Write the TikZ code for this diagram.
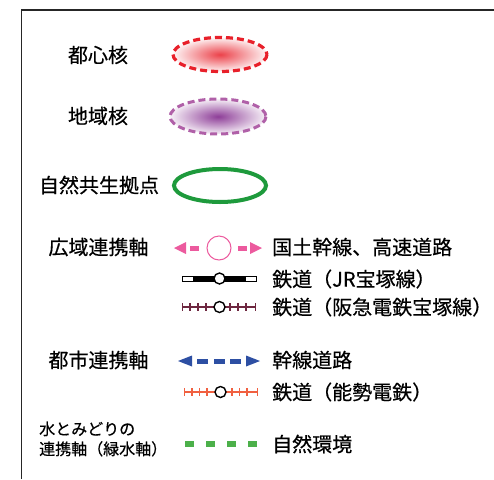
\documentclass[tikz,border=0pt]{standalone}
\usepackage{fontspec}
\setmainfont{Noto Sans CJK JP}[FakeBold=0.5]
\definecolor{cred}{HTML}{E8202A}
\definecolor{cpurp}{HTML}{8E3E98}
\definecolor{cpurpb}{HTML}{B060A8}
\definecolor{cgreen}{HTML}{1E9A3C}
\definecolor{cpink}{HTML}{EC5A9E}
\definecolor{cblue}{HTML}{2D4FA3}
\definecolor{cmaroon}{HTML}{6E2840}
\definecolor{corange}{HTML}{F06040}
\definecolor{cgreen2}{HTML}{4CB04A}
\tikzset{
  lbl/.style={inner sep=0pt, font=\fontsize{20}{24}\selectfont},
  slbl/.style={inner sep=0pt, font=\fontsize{16}{20}\selectfont, align=left},
  rlbl/.style={lbl, anchor=west},
  frameline/.style={draw=black!85, line width=1.5pt},
  stn/.style={circle, draw=black, fill=white, line width=1.4pt, minimum size=11pt, inner sep=0pt},
}
\begin{document}
\begin{tikzpicture}[x=1pt,y=-1pt]
\useasboundingbox (0,0) rectangle (494,479);
% frame
\draw[frameline] (21.5,479) -- (21.5,10) -- (494,10);

% ellipses
\shade[inner color=cred!85, outer color=cred!5] (220,54.5) ellipse [x radius=47, y radius=17];
\draw[cred, line width=3.2pt, dash pattern=on 7pt off 4pt] (220,54.5) ellipse [x radius=47, y radius=17];
\shade[inner color=cpurp, outer color=cpurp!8] (218,116.5) ellipse [x radius=48, y radius=17.5];
\draw[cpurpb, line width=3pt, dash pattern=on 7pt off 4pt] (218,116.5) ellipse [x radius=48, y radius=17.5];
\draw[cgreen, line width=4pt] (220,185.5) ellipse [x radius=46, y radius=16.5];

\node[lbl] (t1) at (98,55) {都心核};
\node[lbl] (t2) at (98,116) {地域核};
\node[lbl] (t3) at (99,185) {自然共生拠点};

% 広域連携軸
\node[lbl] (t4) at (98.5,247) {広域連携軸};
\fill[cpink] (174,248) -- (186,242) -- (186,254) -- cycle;
\fill[cpink] (262,248) -- (250,242) -- (250,254) -- cycle;
\fill[cpink] (190,245.5) rectangle (199,250.5);
\fill[cpink] (238,245.5) rectangle (247,250.5);
\node[circle, draw=cpink, fill=white, line width=1pt, minimum size=24pt, inner sep=0pt] (c1) at (219,248) {};
\node[rlbl] (r1) at (272,247) {国土幹線、高速道路};

% JR
\draw[black, line width=0.9pt, fill=white] (182,276) rectangle (256,281);
\fill[black] (193,276) rectangle (214,281);
\fill[black] (225,276) rectangle (246,281);
\node[stn] (c2) at (219.5,278.5) {};
\node[rlbl] (r2) at (272,279) {鉄道（JR宝塚線）};

% Hankyu
\coordinate (h1) at (182,307);
\coordinate (h2) at (256,307);
\draw[cmaroon, line width=1.2pt] (h1) -- (h2);
\foreach \x in {182.5,190,198,206,230,238,246,255.5}
  \draw[cmaroon, line width=1.2pt] (\x,303) -- (\x,311);
\node[stn] (c3) at (219.5,307) {};
\node[rlbl] (r3) at (272,307) {鉄道（阪急電鉄宝塚線）};

% 都市連携軸
\node[lbl] (t5) at (98.5,360) {都市連携軸};
\fill[cblue] (178,361) -- (192,355.5) -- (192,366.5) -- cycle;
\fill[cblue] (260,361) -- (246,355.5) -- (246,366.5) -- cycle;
\fill[cblue] (197,358.5) rectangle (208,363.5);
\fill[cblue] (213.5,358.5) rectangle (224.5,363.5);
\fill[cblue] (230,358.5) rectangle (241,363.5);
\node[rlbl] (r4) at (272,360) {幹線道路};

% Nose
\coordinate (n1) at (184,392);
\coordinate (n2) at (258,392);
\draw[corange, line width=1.2pt] (n1) -- (n2);
\foreach \x in {184.5,192,199.5,207,232,239.5,247,257.5}
  \draw[corange, line width=1.2pt] (\x,388) -- (\x,396);
\node[stn] (c4) at (220.5,392) {};
\node[rlbl] (r5) at (272,392) {鉄道（能勢電鉄）};

% 緑水軸
\node[slbl, anchor=west] (t6) at (39,439) {水とみどりの\\連携軸（緑水軸）};
\coordinate (g1) at (185,444);
\coordinate (g2) at (257,444);
\draw[cgreen2, line width=5.5pt, dash pattern=on 9pt off 12pt] (g1) -- (g2);
\node[rlbl] (r6) at (272,444) {自然環境};
\end{tikzpicture}
\end{document}
